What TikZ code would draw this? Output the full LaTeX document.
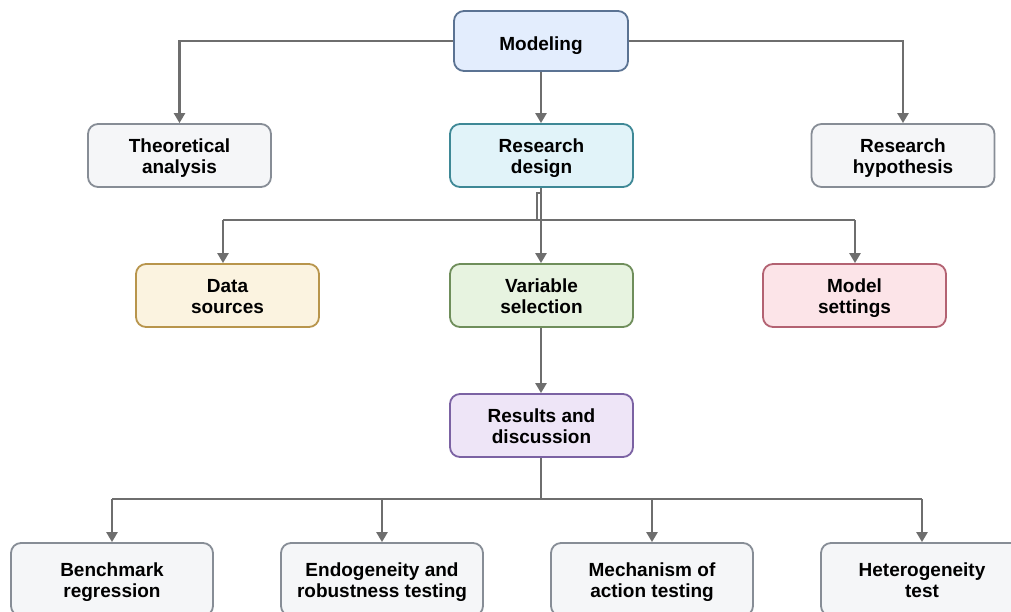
\documentclass[tikz,border=0pt]{standalone}
\usepackage{fontspec}
\setmainfont{Liberation Sans}
\usetikzlibrary{arrows.meta}
\definecolor{lnc}{HTML}{6E6E6E}
\definecolor{mfill}{HTML}{E3EDFD}\definecolor{mdraw}{HTML}{5B7393}
\definecolor{gfill}{HTML}{F5F6F8}\definecolor{gdraw}{HTML}{878D96}
\definecolor{rfill}{HTML}{E1F3F9}\definecolor{rdraw}{HTML}{3E8896}
\definecolor{dfill}{HTML}{FBF3E0}\definecolor{ddraw}{HTML}{B8954C}
\definecolor{vfill}{HTML}{E7F3E0}\definecolor{vdraw}{HTML}{6F8E5B}
\definecolor{sfill}{HTML}{FCE4E8}\definecolor{sdraw}{HTML}{B36272}
\definecolor{pfill}{HTML}{EEE5F7}\definecolor{pdraw}{HTML}{7B62A3}
\newcommand\bxt[2][22pt]{\begin{tabular}{@{}c@{}}\rule{0pt}{#1}#2\end{tabular}}
\tikzset{
  box/.style={draw, line width=1.8pt, rounded corners=10pt, minimum width=183pt, minimum height=63pt,
    font=\fontsize{19}{21}\selectfont\bfseries, inner sep=0pt},
  wide/.style={minimum width=202pt, minimum height=73pt},
  conn/.style={draw=lnc, line width=2.4pt, line join=miter},
  arr/.style={conn, -{Triangle[width=11pt,length=10pt]}}
}
\begin{document}
\begin{tikzpicture}[x=1pt,y=-1pt]
\useasboundingbox (0,0) rectangle (1011,611);
\node[box, fill=mfill, draw=mdraw, minimum width=174pt, minimum height=60pt] (model) at (541,41) {\bxt[26pt]{Modeling}};
\node[box, fill=gfill, draw=gdraw] (theo) at (179.5,155.5) {\bxt{Theoretical\\analysis}};
\node[box, fill=rfill, draw=rdraw] (rd) at (541.5,155.5) {\bxt{Research\\design}};
\node[box, fill=gfill, draw=gdraw] (hyp) at (903,155.5) {\bxt{Research\\hypothesis}};
\node[box, fill=dfill, draw=ddraw] (data) at (227.5,295.5) {\bxt{Data\\sources}};
\node[box, fill=vfill, draw=vdraw] (var) at (541.5,295.5) {\bxt{Variable\\selection}};
\node[box, fill=sfill, draw=sdraw] (set) at (854.5,295.5) {\bxt{Model\\settings}};
\node[box, fill=pfill, draw=pdraw] (res) at (541.5,425.5) {\bxt{Results and\\discussion}};
\node[box, wide, fill=gfill, draw=gdraw] (b1) at (112,579.5) {\bxt{Benchmark\\regression}};
\node[box, wide, fill=gfill, draw=gdraw] (b2) at (382,579.5) {\bxt{Endogeneity and\\robustness testing}};
\node[box, wide, fill=gfill, draw=gdraw] (b3) at (652,579.5) {\bxt{Mechanism of\\action testing}};
\node[box, wide, fill=gfill, draw=gdraw] (b4) at (922,579.5) {\bxt{Heterogeneity\\test}};
% top level
\coordinate (tl) at (179.5,41);
\coordinate (tr) at (903,41);
\draw[arr] (model.west) -- (tl) -- (theo.north);
\draw[arr] (model.east) -- (tr) -- (hyp.north);
\draw[arr] (model.south) -- (model.south |- rd.north);
% research design
\coordinate (j1) at (541,193);
\coordinate (j2) at (537,193);
\coordinate (j3) at (537,220);
\coordinate (hl) at (223,220);
\coordinate (hr) at (855,220);
\draw[arr] (rd.south -| j1) -- (var.north -| j1);
\draw[conn] (j1) -- (j2) -- (j3);
\draw[conn] (hl) -- (hr);
\draw[arr] (hl) -- (hl |- data.north);
\draw[arr] (hr) -- (hr |- set.north);
% variable to results
\draw[arr] (var.south -| j1) -- (res.north -| j1);
% results to bottom
\coordinate (k) at (541,499);
\draw[conn] (res.south -| k) -- (k);
\coordinate (kl) at (112,499);
\coordinate (kr) at (922,499);
\draw[conn] (kl) -- (kr);
\draw[arr] (kl) -- (b1.north);
\draw[arr] (b2.north |- k) -- (b2.north);
\draw[arr] (b3.north |- k) -- (b3.north);
\draw[arr] (kr) -- (b4.north);
\end{tikzpicture}
\end{document}
